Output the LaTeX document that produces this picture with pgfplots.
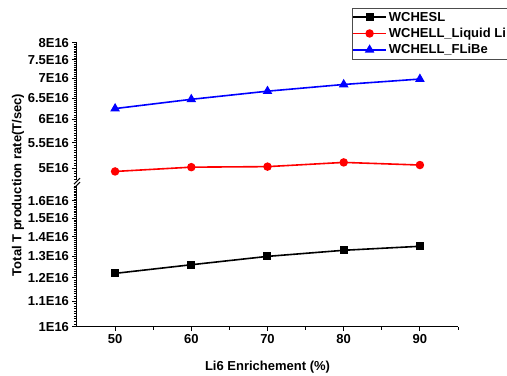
\documentclass[border=0pt]{standalone}
\usepackage{fontspec}
\setmainfont{Liberation Sans}
\usepackage{pgfplots}
\pgfplotsset{compat=1.18}

\def\minorup{480e14}
\pgfplotsforeachungrouped \i in {485,490,...,800}{\xdef\minorup{\minorup,\i e14}}
\def\minorlow{100e14}
\pgfplotsforeachungrouped \i in {101,102,...,169}{\xdef\minorlow{\minorlow,\i e14}}

\begin{document}
\begin{tikzpicture}[font=\fontsize{13bp}{15bp}\selectfont\bfseries]
\useasboundingbox (-77bp,-49.3bp) rectangle (430bp,326.7bp);
\clip (-77bp,-49.3bp) rectangle (430bp,326.7bp);

% lower part
\begin{axis}[ymode=log, scale only axis, width=381bp, height=140.7bp,
  at={(0bp,0bp)}, xmin=45, xmax=95,
  ymin=1e16, ymax=1.692e16,
  axis x line=bottom, axis y line=left,
  axis line style={-, line width=1bp},
  tick align=outside,
  major tick length=4.5bp, minor tick length=3bp,
  every tick/.style={black, line width=0.8bp},
  tick label style={font=\fontsize{13bp}{15bp}\selectfont\bfseries},
  clip=false,
  xtick={50,60,70,80,90}, xticklabels={50,60,70,80,90},
  minor xtick={55,65,75,85,95},
  ytick={1e16,1.1e16,1.2e16,1.3e16,1.4e16,1.5e16,1.6e16},
  yticklabels={1E16,1.1E16,1.2E16,1.3E16,1.4E16,1.5E16,1.6E16},
  minor ytick/.expand once={\minorlow},
  xlabel={Li6 Enrichement (\%)},
  xlabel style={at={(axis description cs:0.5,0)}, anchor=north, yshift=-31bp},
]
\addplot[black, line width=1.6bp, mark=square*, mark size=3.2bp]
  coordinates {(50,1.22e16)(60,1.26e16)(70,1.30e16)(80,1.33e16)(90,1.35e16)};
\end{axis}

% upper part
\begin{axis}[ymode=log, scale only axis, width=381bp, height=137.3bp,
  at={(0bp,146.7bp)}, xmin=45, xmax=95,
  ymin=4.787e16, ymax=8e16,
  axis x line=none, axis y line=left,
  axis line style={-, line width=1bp},
  tick align=outside,
  major tick length=4.5bp, minor tick length=3bp,
  every tick/.style={black, line width=0.8bp},
  tick label style={font=\fontsize{13bp}{15bp}\selectfont\bfseries},
  clip=false,
  ytick={5e16,5.5e16,6e16,6.5e16,7e16,7.5e16,8e16},
  yticklabels={5E16,5.5E16,6E16,6.5E16,7E16,7.5E16,8E16},
  minor ytick/.expand once={\minorup},
  legend style={at={(axis description cs:0.7218,1.2505)}, anchor=north west,
    draw=black!70, line width=0.6bp, inner xsep=0bp, inner ysep=1.5bp,
    font=\fontsize{13bp}{15bp}\selectfont\bfseries, row sep=1.5bp},
  legend cell align=left,
  legend image code/.code={\draw[mark repeat=2,mark phase=2,#1] plot coordinates {(0bp,0bp)(16.5bp,0bp)(33bp,0bp)};},
]
\addlegendimage{black, line width=1.6bp, mark=square*, mark size=3.2bp}
\addlegendentry{WCHESL}
\addplot[red, line width=1.6bp, mark=*, mark size=3.4bp]
  coordinates {(50,4.94e16)(60,5.02e16)(70,5.03e16)(80,5.11e16)(90,5.06e16)};
\addlegendentry{WCHELL\_Liquid Li}
\addplot[blue, line width=1.6bp, mark=triangle*, mark size=4bp]
  coordinates {(50,6.25e16)(60,6.47e16)(70,6.67e16)(80,6.84e16)(90,6.98e16)};
\addlegendentry{WCHELL\_FLiBe}
\end{axis}

% axis break mark
\draw[line width=1bp] (-3bp,138.5bp) -- (3bp,144.5bp);
\draw[line width=1bp] (-3bp,142.5bp) -- (3bp,148.5bp);

\node[rotate=90] at (-59bp,141.7bp) {Total T production rate(T/sec)};
\end{tikzpicture}
\end{document}
